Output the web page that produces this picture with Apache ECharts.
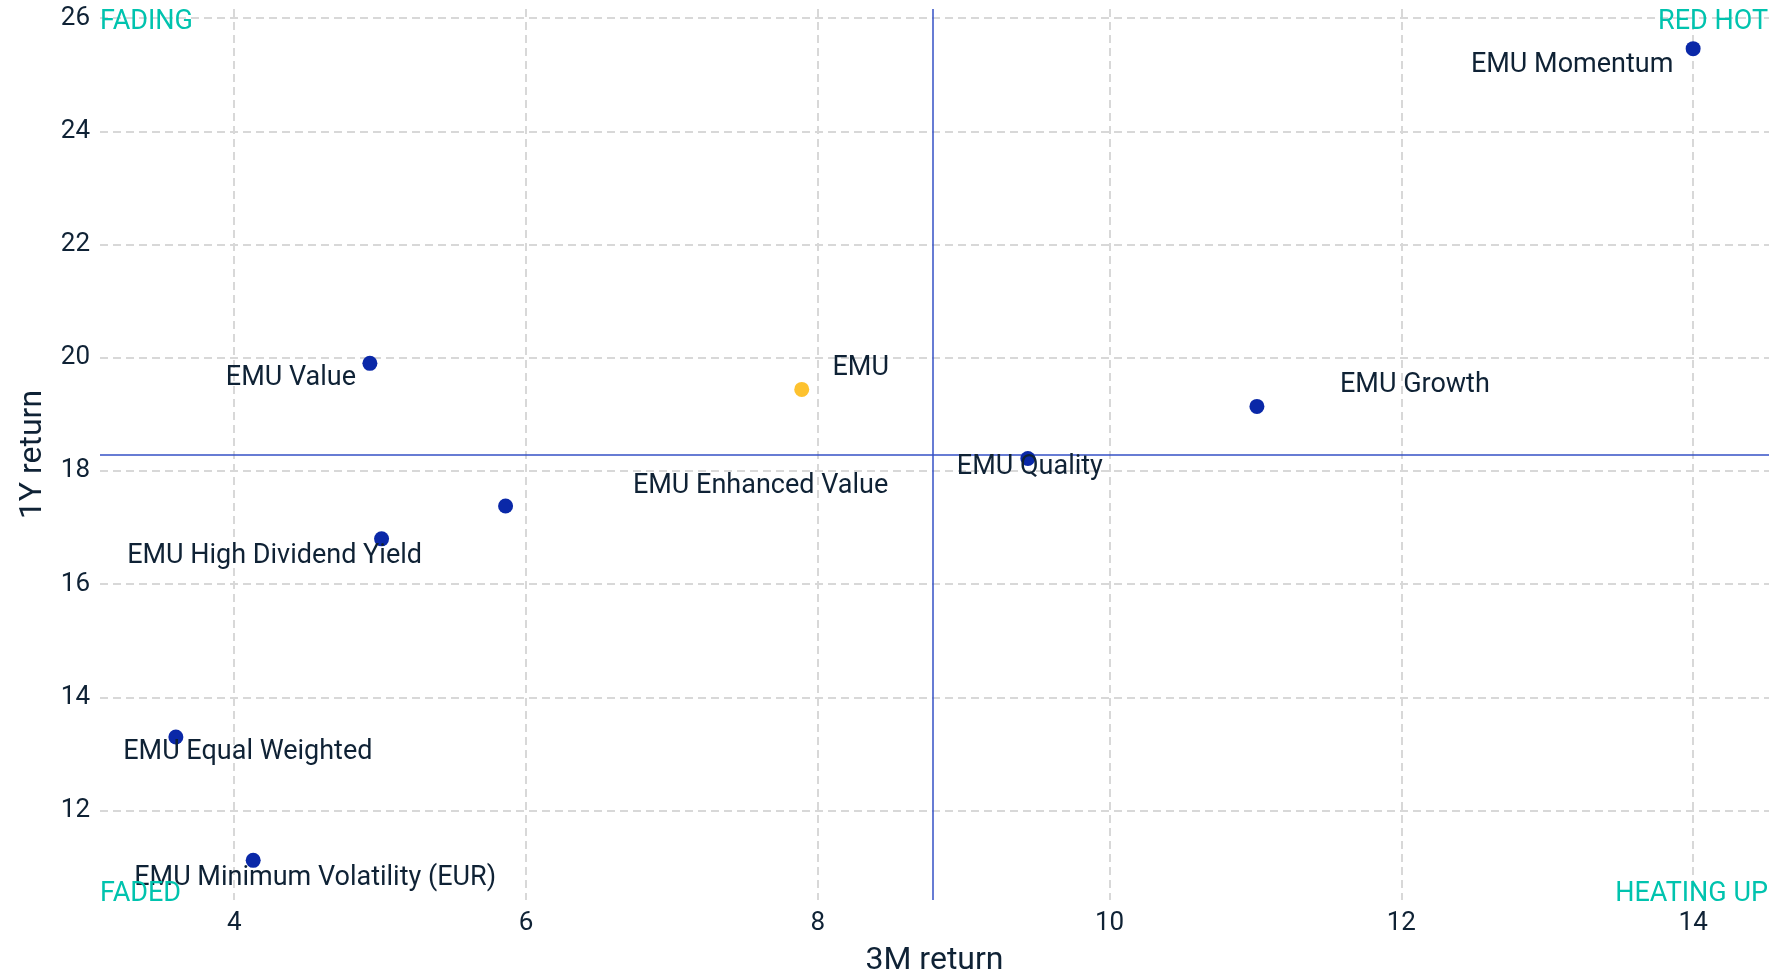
<!DOCTYPE html>
<html>
<head>
<meta charset="utf-8">
<title>EMU factor indices: 3M vs 1Y return</title>
<script src="https://cdn.jsdelivr.net/npm/echarts@6/dist/echarts.min.js"></script>
<style>
  html, body { margin: 0; padding: 0; background: #ffffff; }
  #chart { width: 1775px; height: 977px; }
</style>
</head>
<body>
<div id="chart"></div>
<script>
// Index names and their trailing returns (%)
const indexNames = [
  'EMU Momentum',
  'EMU Value',
  'EMU',
  'EMU Growth',
  'EMU Quality',
  'EMU Enhanced Value',
  'EMU High Dividend Yield',
  'EMU Equal Weighted',
  'EMU Minimum Volatility (EUR)'
];
const return3M = [14.0, 4.93, 7.89, 11.01, 9.44, 5.86, 5.01, 3.60, 4.13];
const return1Y = [25.46, 19.90, 19.44, 19.14, 18.22, 17.38, 16.80, 13.30, 11.12];

// Quadrant split lines
const splitX = 8.79;
const splitY = 18.28;

// Axis extents
const xRange = [3.08, 14.52];
const yRange = [10.42, 26.16];

// Corner captions
const quadrantLabels = ['FADING', 'RED HOT', 'FADED', 'HEATING UP'];

// Label placement relative to each dot, [dx, dy] in px (text centre)
const labelNudge = [
  [-121, 17], [-79, 15], [59, -21], [158, -21], [2, 9],
  [255, -20], [-107, 17], [72, 15], [62, 18]
];

const TEXT = '#0f2235';
const BLUE = '#0a28a8';
const GOLD = '#fdc22f';
const TEAL = '#00c3ae';
const FONT = 'Roboto';

const grid = { left: 100, right: 6, top: 9, bottom: 77 };
const W = 1775, H = 977;

const points = indexNames.map((name, i) => ({
  name: name,
  value: [return3M[i], return1Y[i]],
  itemStyle: { color: name === 'EMU' ? GOLD : BLUE, opacity: 1 }
}));

const axisCommon = {
  type: 'value',
  axisLine: { show: false },
  axisTick: { show: false },
  minInterval: 2,
  maxInterval: 2,
  splitLine: {
    show: true,
    showMinLine: false,
    showMaxLine: false,
    lineStyle: { color: '#d8d8d8', width: 2, type: [8, 5] }
  },
  axisLabel: {
    color: TEXT, fontFamily: FONT, fontSize: 26,
    formatter: v => (Math.abs(v % 2) < 1e-9 ? String(v) : '')
  },
  nameTextStyle: { color: TEXT, fontFamily: FONT, fontSize: 32 },
  nameLocation: 'middle'
};

const chart = echarts.init(document.getElementById('chart'), null, { renderer: 'canvas' });

const quadStyle = { fill: TEAL, font: '27px Roboto' };
const plotRight = W - grid.right;
const plotBottom = H - grid.bottom;

chart.setOption({
  backgroundColor: '#ffffff',
  animation: false,
  grid: Object.assign({ containLabel: false, outerBoundsMode: 'none' }, grid),
  xAxis: Object.assign({}, axisCommon, {
    min: xRange[0], max: xRange[1],
    name: '3M return', nameGap: 45,
    axisLabel: Object.assign({}, axisCommon.axisLabel, { margin: 10 })
  }),
  yAxis: Object.assign({}, axisCommon, {
    min: yRange[0], max: yRange[1],
    name: '1Y return', nameGap: 51,
    axisLabel: Object.assign({}, axisCommon.axisLabel, { margin: 10 })
  }),
  graphic: [
    { type: 'text', left: grid.left, top: grid.top, z: 5, silent: true,
      style: Object.assign({ text: quadrantLabels[0] }, quadStyle) },
    { type: 'text', right: W - plotRight + 1, top: grid.top, z: 5, silent: true,
      style: Object.assign({ text: quadrantLabels[1] }, quadStyle) },
    { type: 'text', left: grid.left, top: plotBottom - 19, z: 5, silent: true,
      style: Object.assign({ text: quadrantLabels[2] }, quadStyle) },
    { type: 'text', right: W - plotRight + 1, top: plotBottom - 19, z: 5, silent: true,
      style: Object.assign({ text: quadrantLabels[3] }, quadStyle) }
  ],
  series: [{
    type: 'scatter',
    symbolSize: 15,
    data: points,
    z: 3,
    itemStyle: { opacity: 1 },
    label: {
      show: true,
      position: 'inside',
      align: 'center',
      verticalAlign: 'middle',
      formatter: p => p.name,
      color: TEXT,
      opacity: 1,
      fontFamily: FONT,
      fontSize: 27
    },
    emphasis: { disabled: true },
    labelLayout: p => ({
      dx: labelNudge[p.dataIndex][0],
      dy: labelNudge[p.dataIndex][1],
      hideOverlap: false
    }),
    markLine: {
      silent: true,
      symbol: 'none',
      label: { show: false },
      z: 2,
      lineStyle: { color: '#3451c6', width: 1.5, type: 'solid', opacity: 1 },
      data: [{ xAxis: splitX }, { yAxis: splitY }]
    }
  }]
});
</script>
</body>
</html>
